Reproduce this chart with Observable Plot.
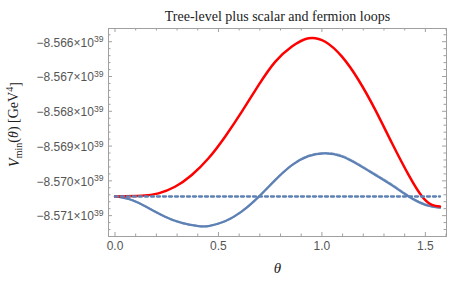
<!DOCTYPE html>
<html><head><meta charset="utf-8">
<script src="https://cdn.jsdelivr.net/npm/d3@7"></script>
<script src="https://cdn.jsdelivr.net/npm/@observablehq/plot@0.6"></script>
<style>body{margin:0;background:#fff} svg{display:block}</style>
</head><body><div id="chart"></div>
<script>
const title = "Tree-level plus scalar and fermion loops";
const xLabel = "θ";
const yLabel = "Vmin(θ) [GeV4]";

// values in units of 10^39 GeV^4
const thetaRed = [0, 0.13, 0.21, 0.29, 0.371, 0.452, 0.532, 0.613, 0.694, 0.774, 0.855, 0.935, 1.016, 1.097, 1.177, 1.258, 1.339, 1.419, 1.484, 1.532, 1.5708];
const vRed = [-8.57045, -8.57043, -8.57036, -8.57017, -8.56983, -8.56935, -8.56873, -8.56801, -8.56725, -8.56658, -8.56614, -8.56590, -8.56600, -8.56643, -8.56710, -8.56796, -8.56892, -8.56983, -8.57045, -8.57069, -8.57074];

const thetaBlue = [0, 0.081, 0.161, 0.242, 0.323, 0.403, 0.452, 0.532, 0.613, 0.694, 0.774, 0.855, 0.935, 1.016, 1.097, 1.177, 1.258, 1.339, 1.419, 1.5, 1.5708];
const vBlue = [-8.57045, -8.57055, -8.57078, -8.57103, -8.57121, -8.57130, -8.57130, -8.57116, -8.57088, -8.57046, -8.56998, -8.56955, -8.56929, -8.56921, -8.56930, -8.56954, -8.56983, -8.57013, -8.57045, -8.57069, -8.57077];
const vBlueDashed = [-8.57045, -8.57055, -8.57078, -8.57103, -8.57121, -8.57130, -8.57130, -8.57116, -8.57088, -8.57046, -8.56998, -8.56955, -8.56928, -8.56920, -8.56928, -8.56952, -8.56981, -8.57011, -8.57043, -8.57068, -8.57077];

const thetaFlat = [0, 1.5708];
const vFlat = [-8.57045, -8.57045];

const xTicks = [0, 0.5, 1.0, 1.5];
const xTickLabels = ["0.0", "0.5", "1.0", "1.5"];
const xMinorTicks = [0.1, 0.2, 0.3, 0.4, 0.6, 0.7, 0.8, 0.9, 1.1, 1.2, 1.3, 1.4, 1.6];
const yTicks = [-8.571, -8.570, -8.569, -8.568, -8.567, -8.566];
const yTickLabels = ["−8.571×10^39", "−8.570×10^39", "−8.569×10^39", "−8.568×10^39", "−8.567×10^39", "−8.566×10^39"];
const yMinorTicks = [-8.5714, -8.5712, -8.5708, -8.5706, -8.5704, -8.5702, -8.5698, -8.5696, -8.5694, -8.5692, -8.5688, -8.5686, -8.5684, -8.5682, -8.5678, -8.5676, -8.5674, -8.5672, -8.5668, -8.5666, -8.5664, -8.5662, -8.5658];

const red = thetaRed.map((t, i) => ({t, v: vRed[i]}));
const blue = thetaBlue.map((t, i) => ({t, v: vBlue[i]}));
const blueDashed = thetaBlue.map((t, i) => ({t, v: vBlueDashed[i]}));
const flat = thetaFlat.map((t, i) => ({t, v: vFlat[i]}));

const W = 449, H = 287, mL = 108, mR = 3, mT = 28, mB = 51;
const iw = W - mL - mR, ih = H - mT - mB;
const frameColor = "#a0a0a0";
const labelColor = "#555";
const blueC = "#5E81B5";
const sans = "'Liberation Sans', Arial, sans-serif";
const serif = "'Liberation Serif', 'Times New Roman', serif";

const chart = Plot.plot({
  width: W, height: H,
  marginLeft: mL, marginRight: mR, marginTop: mT, marginBottom: mB,
  x: {domain: [-0.0314, 1.6022], axis: null},
  y: {domain: [-8.5716, -8.56562], axis: null},
  marks: [
    Plot.frame({stroke: frameColor, strokeWidth: 1}),
    Plot.tickX(xTicks, {x: d => d, stroke: frameColor, insetTop: ih - 4}),
    Plot.tickX(xMinorTicks, {x: d => d, stroke: frameColor, insetTop: ih - 2.5}),
    Plot.tickX(xTicks, {x: d => d, stroke: frameColor, insetBottom: ih - 4}),
    Plot.tickX(xMinorTicks, {x: d => d, stroke: frameColor, insetBottom: ih - 2.5}),
    Plot.tickY(yTicks, {y: d => d, stroke: frameColor, insetRight: iw - 4}),
    Plot.tickY(yMinorTicks, {y: d => d, stroke: frameColor, insetRight: iw - 2.5}),
    Plot.tickY(yTicks, {y: d => d, stroke: frameColor, insetLeft: iw - 4}),
    Plot.tickY(yMinorTicks, {y: d => d, stroke: frameColor, insetLeft: iw - 2.5}),
    Plot.text(xTicks, {x: d => d, text: (d, i) => xTickLabels[i], frameAnchor: "bottom", dy: 13, fill: labelColor, fontSize: 12, fontFamily: sans}),
    Plot.text(yTicks, {y: d => d, text: (d, i) => yTickLabels[i], frameAnchor: "left", textAnchor: "end", dx: -5, dy: 1, fill: labelColor, fontSize: 12, fontFamily: sans}),
    Plot.line(blueDashed, {x: "t", y: "v", stroke: blueC, strokeWidth: 2, strokeDasharray: "4,2", strokeOpacity: 0.7, curve: "natural"}),
    Plot.line(blue, {x: "t", y: "v", stroke: blueC, strokeWidth: 2.2, curve: "natural"}),
    Plot.line(red, {x: "t", y: "v", stroke: "#FF0000", strokeWidth: 2.5, curve: "natural"}),
    Plot.line(flat, {x: "t", y: "v", stroke: blueC, strokeWidth: 2.3, strokeDasharray: "3,3"}),
    Plot.text([title], {frameAnchor: "top", dy: -17, fontSize: 14, fontFamily: serif, fill: "#222"}),
    Plot.text([xLabel], {frameAnchor: "bottom", dy: 36, fontSize: 15, fontFamily: serif, fontStyle: "italic", fill: "#222"}),
    Plot.text([yLabel], {frameAnchor: "left", textAnchor: "middle", dx: -94, dy: -8, rotate: -90, fontSize: 14, fontFamily: serif, fill: "#222"})
  ]
});

const NS = "http://www.w3.org/2000/svg";
function ts(parent, txt, attrs) {
  const e = document.createElementNS(NS, "tspan");
  e.textContent = txt;
  for (const k in attrs) e.setAttribute(k, attrs[k]);
  parent.appendChild(e);
  return e;
}
chart.querySelectorAll("text").forEach(t => {
  const s = t.textContent;
  if (s.includes("^")) {
    const [base, sup] = s.split("^");
    t.textContent = "";
    ts(t, base, {});
    ts(t, sup, {dy: "-0.5em", "font-size": "0.72em"});
  } else if (s === yLabel) {
    t.textContent = "";
    t.setAttribute("text-anchor", "middle");
    ts(t, "V", {"font-style": "italic"});
    ts(t, "min", {dy: "0.3em", "font-size": "0.72em"});
    ts(t, "(", {dy: "-0.3em"});
    ts(t, "θ", {"font-style": "italic"});
    ts(t, ") [GeV", {});
    ts(t, "4", {dy: "-0.45em", "font-size": "0.72em"});
    ts(t, "]", {dy: "0.45em"});
  }
});
document.getElementById("chart").appendChild(chart);
</script>
</body></html>
